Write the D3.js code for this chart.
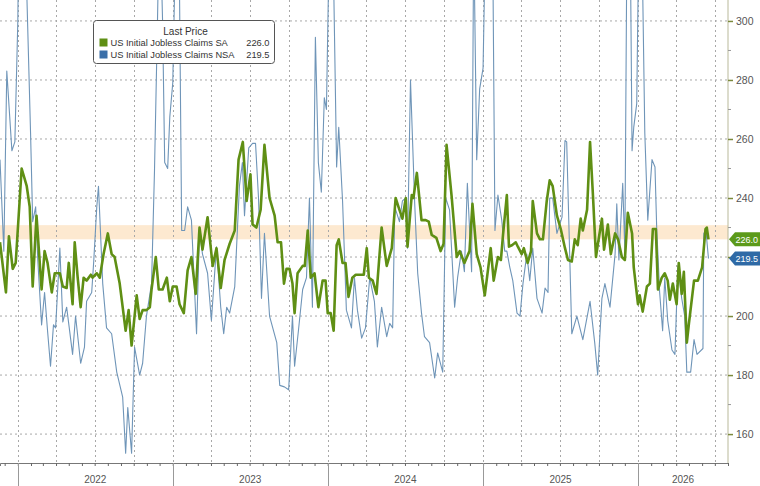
<!DOCTYPE html>
<html>
<head>
<meta charset="utf-8">
<script src="https://cdn.jsdelivr.net/npm/d3@7"></script>
<style>
  body { margin: 0; background: #fff; }
  svg { display: block; font-family: "Liberation Sans", Arial, sans-serif; }
</style>
</head>
<body>
<div id="chart"></div>
<script>
// weekly claims, thousands
var saClaims = [
  ["2021-11-20",225],["2021-12-04",208],["2021-12-11",227],["2021-12-20",216],["2021-12-27",218],
  ["2022-01-10",250],["2022-01-22",244],["2022-01-29",237],["2022-02-05",210],["2022-02-14",234],["2022-02-26",209],
  ["2022-03-05",222],["2022-03-12",218],["2022-03-22",208],["2022-03-29",214.5],["2022-04-10",214.5],["2022-04-17",210],
  ["2022-04-26",209.5],["2022-05-01",218],["2022-05-10",204],["2022-05-15",225],["2022-05-22",213],["2022-05-29",203],
  ["2022-06-05",213],["2022-06-12",212],["2022-06-22",214],["2022-06-26",213],["2022-07-06",214.5],["2022-07-13",213],
  ["2022-07-22",221],["2022-08-01",228],["2022-08-10",221],["2022-08-17",220],["2022-08-29",211],["2022-09-05",203],
  ["2022-09-12",195],["2022-09-19",202],["2022-09-26",190],["2022-10-08",207],["2022-10-15",199],["2022-10-22",202],
  ["2022-10-31",202],["2022-11-08",203],["2022-11-12",209],["2022-11-22",220],["2022-11-29",209],["2022-12-08",209],
  ["2022-12-18",213],["2022-12-25",205],
  ["2023-01-01",210],["2023-01-10",210],["2023-01-17",204],["2023-01-27",201],["2023-02-05",215.5],["2023-02-14",220],
  ["2023-02-24",207.5],["2023-03-05",230],["2023-03-12",222.5],["2023-03-24",233.5],["2023-04-05",217],["2023-04-14",223],
  ["2023-04-24",209.5],["2023-05-03",219],["2023-05-15",224.5],["2023-05-27",229],["2023-06-05",253],["2023-06-15",259],
  ["2023-06-24",239],["2023-07-03",248],["2023-07-08",231],["2023-07-17",230],["2023-07-27",236],["2023-08-05",258],
  ["2023-08-17",240],["2023-08-29",234],["2023-09-05",225],["2023-09-13",225],["2023-09-20",211],["2023-09-26",216],
  ["2023-10-03",216],["2023-10-10",211],["2023-10-15",201],["2023-10-22",214.5],["2023-11-03",217],["2023-11-08",217],
  ["2023-11-15",229],["2023-11-22",213],["2023-12-01",214.5],["2023-12-10",203],["2023-12-20",212],["2023-12-27",212],
  ["2024-01-01",201],["2024-01-08",201],["2024-01-15",195],["2024-01-22",224],["2024-01-27",226],["2024-02-05",218],
  ["2024-02-12",218],["2024-02-19",206.5],["2024-02-28",213],["2024-03-07",214],["2024-03-16",214],["2024-03-26",214],
  ["2024-04-02",223],["2024-04-07",213],["2024-04-16",212],["2024-04-25",207.5],["2024-05-07",230],["2024-05-19",217],
  ["2024-05-31",223],["2024-06-09",240],["2024-06-18",236],["2024-06-25",233],["2024-07-03",240],["2024-07-07",223.5],
  ["2024-07-17",241],["2024-07-21",240],["2024-07-29",248.5],["2024-08-09",232.5],["2024-08-19",232.5],["2024-08-26",232],
  ["2024-09-02",227.5],["2024-09-13",226.5],["2024-09-23",222],["2024-09-30",224.5],["2024-10-07",258],["2024-10-19",240.5],
  ["2024-10-31",220],["2024-11-07",222],["2024-11-18",218],["2024-11-30",222],["2024-12-07",238],["2024-12-17",221],
  ["2024-12-26",216.5],
  ["2025-01-05",207],["2025-01-19",223],["2025-01-26",212],["2025-02-05",220],["2025-02-12",219],["2025-02-17",227.5],
  ["2025-02-26",241],["2025-03-03",223.5],["2025-03-10",224],["2025-03-19",225],["2025-03-24",223.5],["2025-04-02",221],
  ["2025-04-07",223],["2025-04-16",218],["2025-04-24",222],["2025-04-28",239],["2025-05-08",228],["2025-05-15",226],
  ["2025-05-22",226],["2025-05-31",239],["2025-06-07",246],["2025-06-14",244],["2025-06-24",234],["2025-07-03",229.5],
  ["2025-07-13",223],["2025-07-20",219],["2025-07-29",218.5],["2025-08-05",226],["2025-08-12",224],["2025-08-19",233],
  ["2025-08-24",229],["2025-09-03",236],["2025-09-10",259],["2025-09-17",240.5],["2025-09-24",220],["2025-09-28",224],
  ["2025-10-08",233],["2025-10-13",222.5],["2025-10-22",231],["2025-10-29",221],["2025-11-08",228],["2025-11-15",226],
  ["2025-11-24",220],["2025-12-01",219],["2025-12-08",235],["2025-12-18",228],["2025-12-22",216.5],
  ["2026-01-01",204],["2026-01-05",207],["2026-01-12",201.5],["2026-01-22",210],["2026-01-29",211],["2026-02-05",229.5],
  ["2026-02-12",229.5],["2026-02-17",209],["2026-02-26",213],["2026-03-05",214.5],["2026-03-12",212],["2026-03-17",205.5],
  ["2026-03-24",211],["2026-04-02",204],["2026-04-07",218],["2026-04-14",207.5],["2026-04-19",215],["2026-04-26",191],
  ["2026-05-01",197.5],["2026-05-13",212],["2026-05-22",212],["2026-06-01",216.5],["2026-06-09",229.5],["2026-06-12",230],
  ["2026-06-16",226]
];

// values above ~307 run off the top of the chart
var nsaClaims = [
  ["2021-11-20",253],["2021-11-29",222],["2021-12-06",283],["2021-12-18",256],["2021-12-25",259],
  ["2022-01-01",300],["2022-01-08",400],["2022-01-15",340],["2022-01-22",310],["2022-01-31",262],["2022-02-05",232],
  ["2022-02-12",237],["2022-02-17",219],["2022-02-26",197],["2022-03-05",208],["2022-03-12",195],["2022-03-19",183],
  ["2022-03-26",197],["2022-03-31",196],["2022-04-10",223],["2022-04-17",198],["2022-04-26",203],["2022-05-10",187],
  ["2022-05-17",200],["2022-05-29",184],["2022-06-07",189.5],["2022-06-12",205],["2022-06-24",208],["2022-06-29",219],
  ["2022-07-06",237],["2022-07-10",244],["2022-07-20",211],["2022-07-29",196],["2022-08-10",194],["2022-08-22",181],
  ["2022-09-05",172.5],["2022-09-12",153.5],["2022-09-17",169],["2022-09-26",153.5],["2022-10-03",189.5],["2022-10-15",180],
  ["2022-10-22",184],["2022-10-31",200],["2022-11-12",211],["2022-11-19",249.5],["2022-11-26",300],["2022-12-01",340],
  ["2022-12-08",300],["2022-12-13",252],["2022-12-20",250],["2022-12-25",267.5],
  ["2023-01-01",279],["2023-01-08",330],["2023-01-15",340],["2023-01-22",229],["2023-01-29",229],["2023-02-05",237],
  ["2023-02-14",232.5],["2023-02-26",194],["2023-03-05",229],["2023-03-12",221],["2023-03-24",214.5],["2023-04-02",198.5],
  ["2023-04-14",223.5],["2023-04-24",203],["2023-05-01",194],["2023-05-08",203],["2023-05-15",201],["2023-05-27",210],
  ["2023-06-07",244],["2023-06-14",252],["2023-06-19",234],["2023-06-29",257],["2023-07-08",258.5],["2023-07-15",258.5],
  ["2023-07-22",240],["2023-07-29",206],["2023-08-05",228],["2023-08-17",200],["2023-09-03",191],["2023-09-10",176.5],
  ["2023-09-21",176],["2023-10-01",175],["2023-10-10",200],["2023-10-15",183],["2023-10-24",195],["2023-11-03",209],
  ["2023-11-12",213],["2023-11-19",240],["2023-11-26",203],["2023-12-03",294.5],["2023-12-10",252],["2023-12-17",242],
  ["2023-12-24",274],["2023-12-29",270],
  ["2024-01-05",330],["2024-01-12",340],["2024-01-22",250.5],["2024-01-27",264],["2024-02-05",239],["2024-02-14",202],
  ["2024-02-26",196],["2024-03-04",213],["2024-03-11",202],["2024-03-21",192.5],["2024-03-30",196],["2024-04-09",213],
  ["2024-04-20",205],["2024-04-27",189.5],["2024-05-07",203],["2024-05-19",193],["2024-05-26",197.5],["2024-06-02",196],
  ["2024-06-07",237],["2024-06-18",232],["2024-06-25",239],["2024-07-03",240],["2024-07-07",223],["2024-07-14",280],
  ["2024-07-24",238],["2024-07-31",214.5],["2024-08-09",201],["2024-08-16",193],["2024-08-28",191],["2024-09-09",179],
  ["2024-09-16",187.5],["2024-09-28",181],["2024-10-05",240],["2024-10-14",236],["2024-10-26",203],["2024-11-02",213],
  ["2024-11-11",222],["2024-11-18",215],["2024-11-25",245],["2024-12-05",215],["2024-12-10",330],["2024-12-17",253],
  ["2024-12-24",277],
  ["2025-01-01",284],["2025-01-08",340],["2025-01-17",380],["2025-01-24",320],["2025-01-29",229],["2025-02-05",241],
  ["2025-02-14",232.5],["2025-02-21",222],["2025-02-26",222],["2025-03-05",216.5],["2025-03-12",212],["2025-03-22",201],
  ["2025-03-29",200],["2025-04-05",211],["2025-04-14",221],["2025-04-21",212],["2025-04-28",223],["2025-05-08",206],
  ["2025-05-20",201],["2025-05-27",209.5],["2025-06-03",208],["2025-06-07",240],["2025-06-14",240],["2025-06-24",228],
  ["2025-07-06",233.5],["2025-07-13",259.5],["2025-07-17",259],["2025-07-29",194],["2025-08-10",200],["2025-08-24",192],
  ["2025-09-10",205],["2025-09-21",191],["2025-09-28",180],["2025-10-08",206],["2025-10-15",211],["2025-10-27",203],
  ["2025-11-08",221],["2025-11-12",238],["2025-11-17",219],["2025-11-26",245],["2025-12-01",222],["2025-12-06",330],
  ["2025-12-13",340],["2025-12-18",256],["2025-12-22",264],["2025-12-29",272],
  ["2026-01-03",330],["2026-01-10",330],["2026-01-17",262],["2026-01-24",232.5],["2026-02-03",253],["2026-02-10",250.5],
  ["2026-02-14",230],["2026-02-21",208],["2026-02-28",195],["2026-03-05",213],["2026-03-12",198.5],["2026-03-22",188.5],
  ["2026-03-29",187],["2026-04-05",217],["2026-04-14",206],["2026-04-21",200],["2026-04-26",181],["2026-05-05",181],
  ["2026-05-13",192],["2026-05-20",187],["2026-06-03",189],["2026-06-05",228],["2026-06-10",229],["2026-06-16",219.5]
];

var yTicks = [160, 180, 200, 220, 240, 260, 280, 300];
var yMinorTicks = [170, 190, 210, 230, 250, 270, 290];
var years = ["2022", "2023", "2024", "2025", "2026"];
var band = [226, 230.8];
var legendRows = [
  {name: "US Initial Jobless Claims SA", last: "226.0", value: 226.0, color: "#5f8f14", tag: "#5c9a1a"},
  {name: "US Initial Jobless Claims NSA", last: "219.5", value: 219.5, color: "#3b6fa8", tag: "#2f6aa6"}
];

var width = 760, height = 486;
var plotRight = 728, plotBottom = 463;
var parse = d3.utcParse("%Y-%m-%d");

var x = d3.scaleUtc()
    .domain([parse("2021-11-20"), parse("2026-08-01")])
    .range([0, plotRight]);
var y = d3.scaleLinear()
    .domain([150.2, 307.1])
    .range([plotBottom, 0]);

var svg = d3.select("#chart").append("svg")
    .attr("width", width)
    .attr("height", height);

svg.append("clipPath").attr("id", "plot-clip")
  .append("rect").attr("x", 0).attr("y", 0).attr("width", plotRight).attr("height", plotBottom);

// highlight band near last value
svg.append("rect")
    .attr("x", 0).attr("width", plotRight)
    .attr("y", y(band[1])).attr("height", y(band[0]) - y(band[1]))
    .attr("fill", "#fde9d0");

// grid
svg.append("g").selectAll("line").data(yTicks).join("line")
    .attr("x1", 0).attr("x2", plotRight)
    .attr("y1", d => y(d)).attr("y2", d => y(d))
    .attr("stroke", "#a8a8a8").attr("stroke-width", 1)
    .attr("stroke-dasharray", "2,3");

var quarters = d3.utcMonth.every(3).range(x.domain()[0], x.domain()[1]);
svg.append("g").selectAll("line").data(quarters).join("line")
    .attr("x1", d => Math.round(x(d)) + 0.5).attr("x2", d => Math.round(x(d)) + 0.5)
    .attr("y1", 0).attr("y2", plotBottom)
    .attr("stroke", "#a8a8a8").attr("stroke-width", 1)
    .attr("stroke-dasharray", "2,3");

// lines
var line = d3.line()
    .x(d => x(parse(d[0])))
    .y(d => y(d[1]));

var lines = svg.append("g").attr("clip-path", "url(#plot-clip)");
lines.append("path").datum(nsaClaims)
    .attr("d", line)
    .attr("fill", "none")
    .attr("stroke", "#6f95b8")
    .attr("stroke-width", 1.1)
    .attr("stroke-linejoin", "round");
lines.append("path").datum(saClaims)
    .attr("d", line)
    .attr("fill", "none")
    .attr("stroke", "#5f8f14")
    .attr("stroke-width", 2.6)
    .attr("stroke-linejoin", "round");

// bottom axis
var xAxis = d3.axisBottom(x)
    .ticks(d3.utcMonth.every(1))
    .tickSize(3)
    .tickFormat("");
var gx = svg.append("g").attr("transform", "translate(0," + plotBottom + ")").call(xAxis);
gx.select(".domain").attr("stroke", "#777");
gx.selectAll(".tick line").attr("stroke", "#666");

var yearStarts = years.map(yr => parse(yr + "-01-01"));
svg.append("g").selectAll("line").data(yearStarts).join("line")
    .attr("x1", d => Math.round(x(d)) + 0.5).attr("x2", d => Math.round(x(d)) + 0.5)
    .attr("y1", plotBottom).attr("y2", height)
    .attr("stroke", "#999");

svg.append("g").selectAll("text").data(years).join("text")
    .attr("x", (d, i) => {
      var a = x(yearStarts[i]);
      var b = i < years.length - 1 ? x(yearStarts[i + 1]) : plotRight;
      return (a + b) / 2;
    })
    .attr("y", 483)
    .attr("text-anchor", "middle")
    .attr("font-size", 10)
    .attr("fill", "#555")
    .text(d => d);

// right axis (the 220 label sits under the NSA tag, so it is left blank)
var yAxis = d3.axisRight(y).tickValues(yTicks).tickSize(5).tickPadding(3)
    .tickFormat(d => d === 220 ? "" : d);
var gy = svg.append("g").attr("transform", "translate(" + plotRight + ",0)").call(yAxis);
gy.select(".domain").attr("stroke", "#b9b99a").attr("d", "M0,0V" + plotBottom);
gy.selectAll(".tick line").attr("stroke", "#7c8a3c").attr("stroke-width", 1.5);
gy.selectAll(".tick text").attr("font-size", 10.5).attr("fill", "#555")
    .attr("font-family", "'Liberation Sans', Arial, sans-serif");

svg.append("g").selectAll("line").data(yMinorTicks).join("line")
    .attr("x1", plotRight).attr("x2", plotRight + 3)
    .attr("y1", d => y(d)).attr("y2", d => y(d))
    .attr("stroke", "#999");

// last value tags
var tags = svg.append("g").selectAll("g").data(legendRows).join("g")
    .attr("transform", d => "translate(" + plotRight + "," + y(d.value) + ")");
tags.append("path")
    .attr("d", "M1,0L7,-7L32,-7L32,7L7,7Z")
    .attr("fill", d => d.tag);
tags.append("text")
    .attr("x", 7.5).attr("y", 3.3)
    .attr("font-size", 9).attr("fill", "#fff")
    .text(d => d.last);

// legend
var legend = svg.append("g").attr("transform", "translate(93.5,20.5)");
legend.append("rect")
    .attr("width", 181).attr("height", 43)
    .attr("rx", 3)
    .attr("fill", "#fff")
    .attr("stroke", "#555");
legend.append("text")
    .attr("x", 92).attr("y", 14)
    .attr("text-anchor", "middle")
    .attr("font-size", 10).attr("fill", "#333")
    .text("Last Price");
var rows = legend.selectAll(".row").data(legendRows).join("g")
    .attr("class", "row")
    .attr("transform", (d, i) => "translate(0," + (25 + i * 12) + ")");
rows.append("rect")
    .attr("x", 6).attr("y", -7).attr("width", 8).attr("height", 8)
    .attr("fill", d => d.color);
rows.append("text")
    .attr("x", 17).attr("y", 0.5)
    .attr("font-size", 9.3).attr("fill", "#333")
    .text(d => d.name);
rows.append("text")
    .attr("x", 176).attr("y", 0.5)
    .attr("text-anchor", "end")
    .attr("font-size", 9.3).attr("fill", "#333")
    .text(d => d.last);
</script>
</body>
</html>
